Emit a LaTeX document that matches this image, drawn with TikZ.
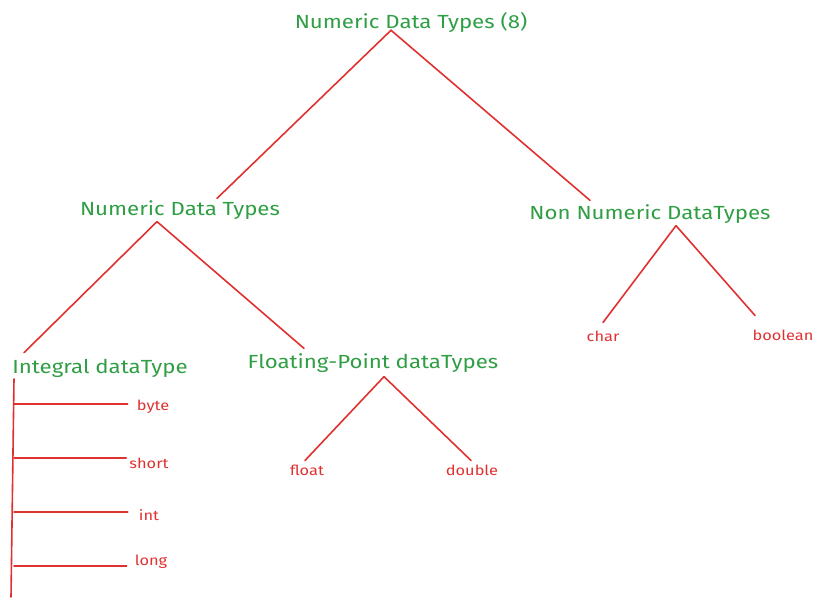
\documentclass[tikz,border=0pt]{standalone}
\usepackage{fontspec}
\setmainfont{Fira Sans}[FakeStretch=1.17]
\definecolor{exgreen}{HTML}{2F9E44}
\definecolor{exred}{HTML}{E03131}
\begin{document}
\begin{tikzpicture}[x=1pt,y=-1pt,
  gt/.style={text=exgreen,font=\fontsize{19}{22}\selectfont,inner sep=0pt},
  rt/.style={text=exred,font=\fontsize{14}{16}\selectfont,inner sep=0pt},
  ln/.style={draw=exred,line width=1.6pt,line cap=round}]
\useasboundingbox (0,0) rectangle (821,606);
\node[gt] (root) at (411,22) {Numeric Data Types (8)};
\node[gt] (num) at (180,210) {Numeric Data Types};
\node[gt] (non) at (650,214) {Non Numeric DataTypes};
\node[gt] (intg) at (100,368) {Integral dataType};
\node[gt] (flt) at (373,363) {Floating-Point dataTypes};
\node[rt] (float) at (307,470) {float};
\node[rt] (double) at (472,470) {double};
\node[rt] (char) at (603,336) {char};
\node[rt] (bool) at (783,335) {boolean};
\node[rt] (byte) at (153,407) {byte};
\node[rt] (short) at (149,463) {short};
\node[rt] (int) at (149,515) {int};
\node[rt] (long) at (151,562) {long};
\coordinate (itop) at (14,379);
\coordinate (ibot) at (11,597);
\draw[ln] ([xshift=-20pt,yshift=2pt]root.south) -- ([xshift=37pt,yshift=2pt]num.north);
\draw[ln] ([xshift=-20pt,yshift=2pt]root.south) -- ([xshift=-60pt,yshift=4pt]non.north);
\draw[ln] ([xshift=-23pt,yshift=-2pt]num.south) -- ([xshift=-76pt,yshift=6pt]intg.north);
\draw[ln] ([xshift=-23pt,yshift=-2pt]num.south) -- ([xshift=-69pt,yshift=5pt]flt.north);
\draw[ln] ([xshift=11pt,yshift=-4pt]flt.south) -- ([xshift=-2pt,yshift=4pt]float.north);
\draw[ln] ([xshift=11pt,yshift=-4pt]flt.south) -- ([xshift=-1pt,yshift=4pt]double.north);
\draw[ln] ([xshift=26pt,yshift=-2pt]non.south) -- ([yshift=8pt]char.north);
\draw[ln] ([xshift=26pt,yshift=-2pt]non.south) -- ([xshift=-28pt,yshift=14pt]bool.north);
\draw[ln] (itop) -- (ibot);
\draw[ln] (itop |- 0,404) -- ([xshift=-9pt,yshift=3pt]byte.west);
\draw[ln] (itop |- 0,458) -- ([xshift=-3pt,yshift=5pt]short.west);
\draw[ln] (itop |- 0,512) -- ([xshift=-11pt,yshift=3pt]int.west);
\draw[ln] (itop |- 0,566) -- ([xshift=-8pt,yshift=-4pt]long.west);
\end{tikzpicture}
\end{document}
